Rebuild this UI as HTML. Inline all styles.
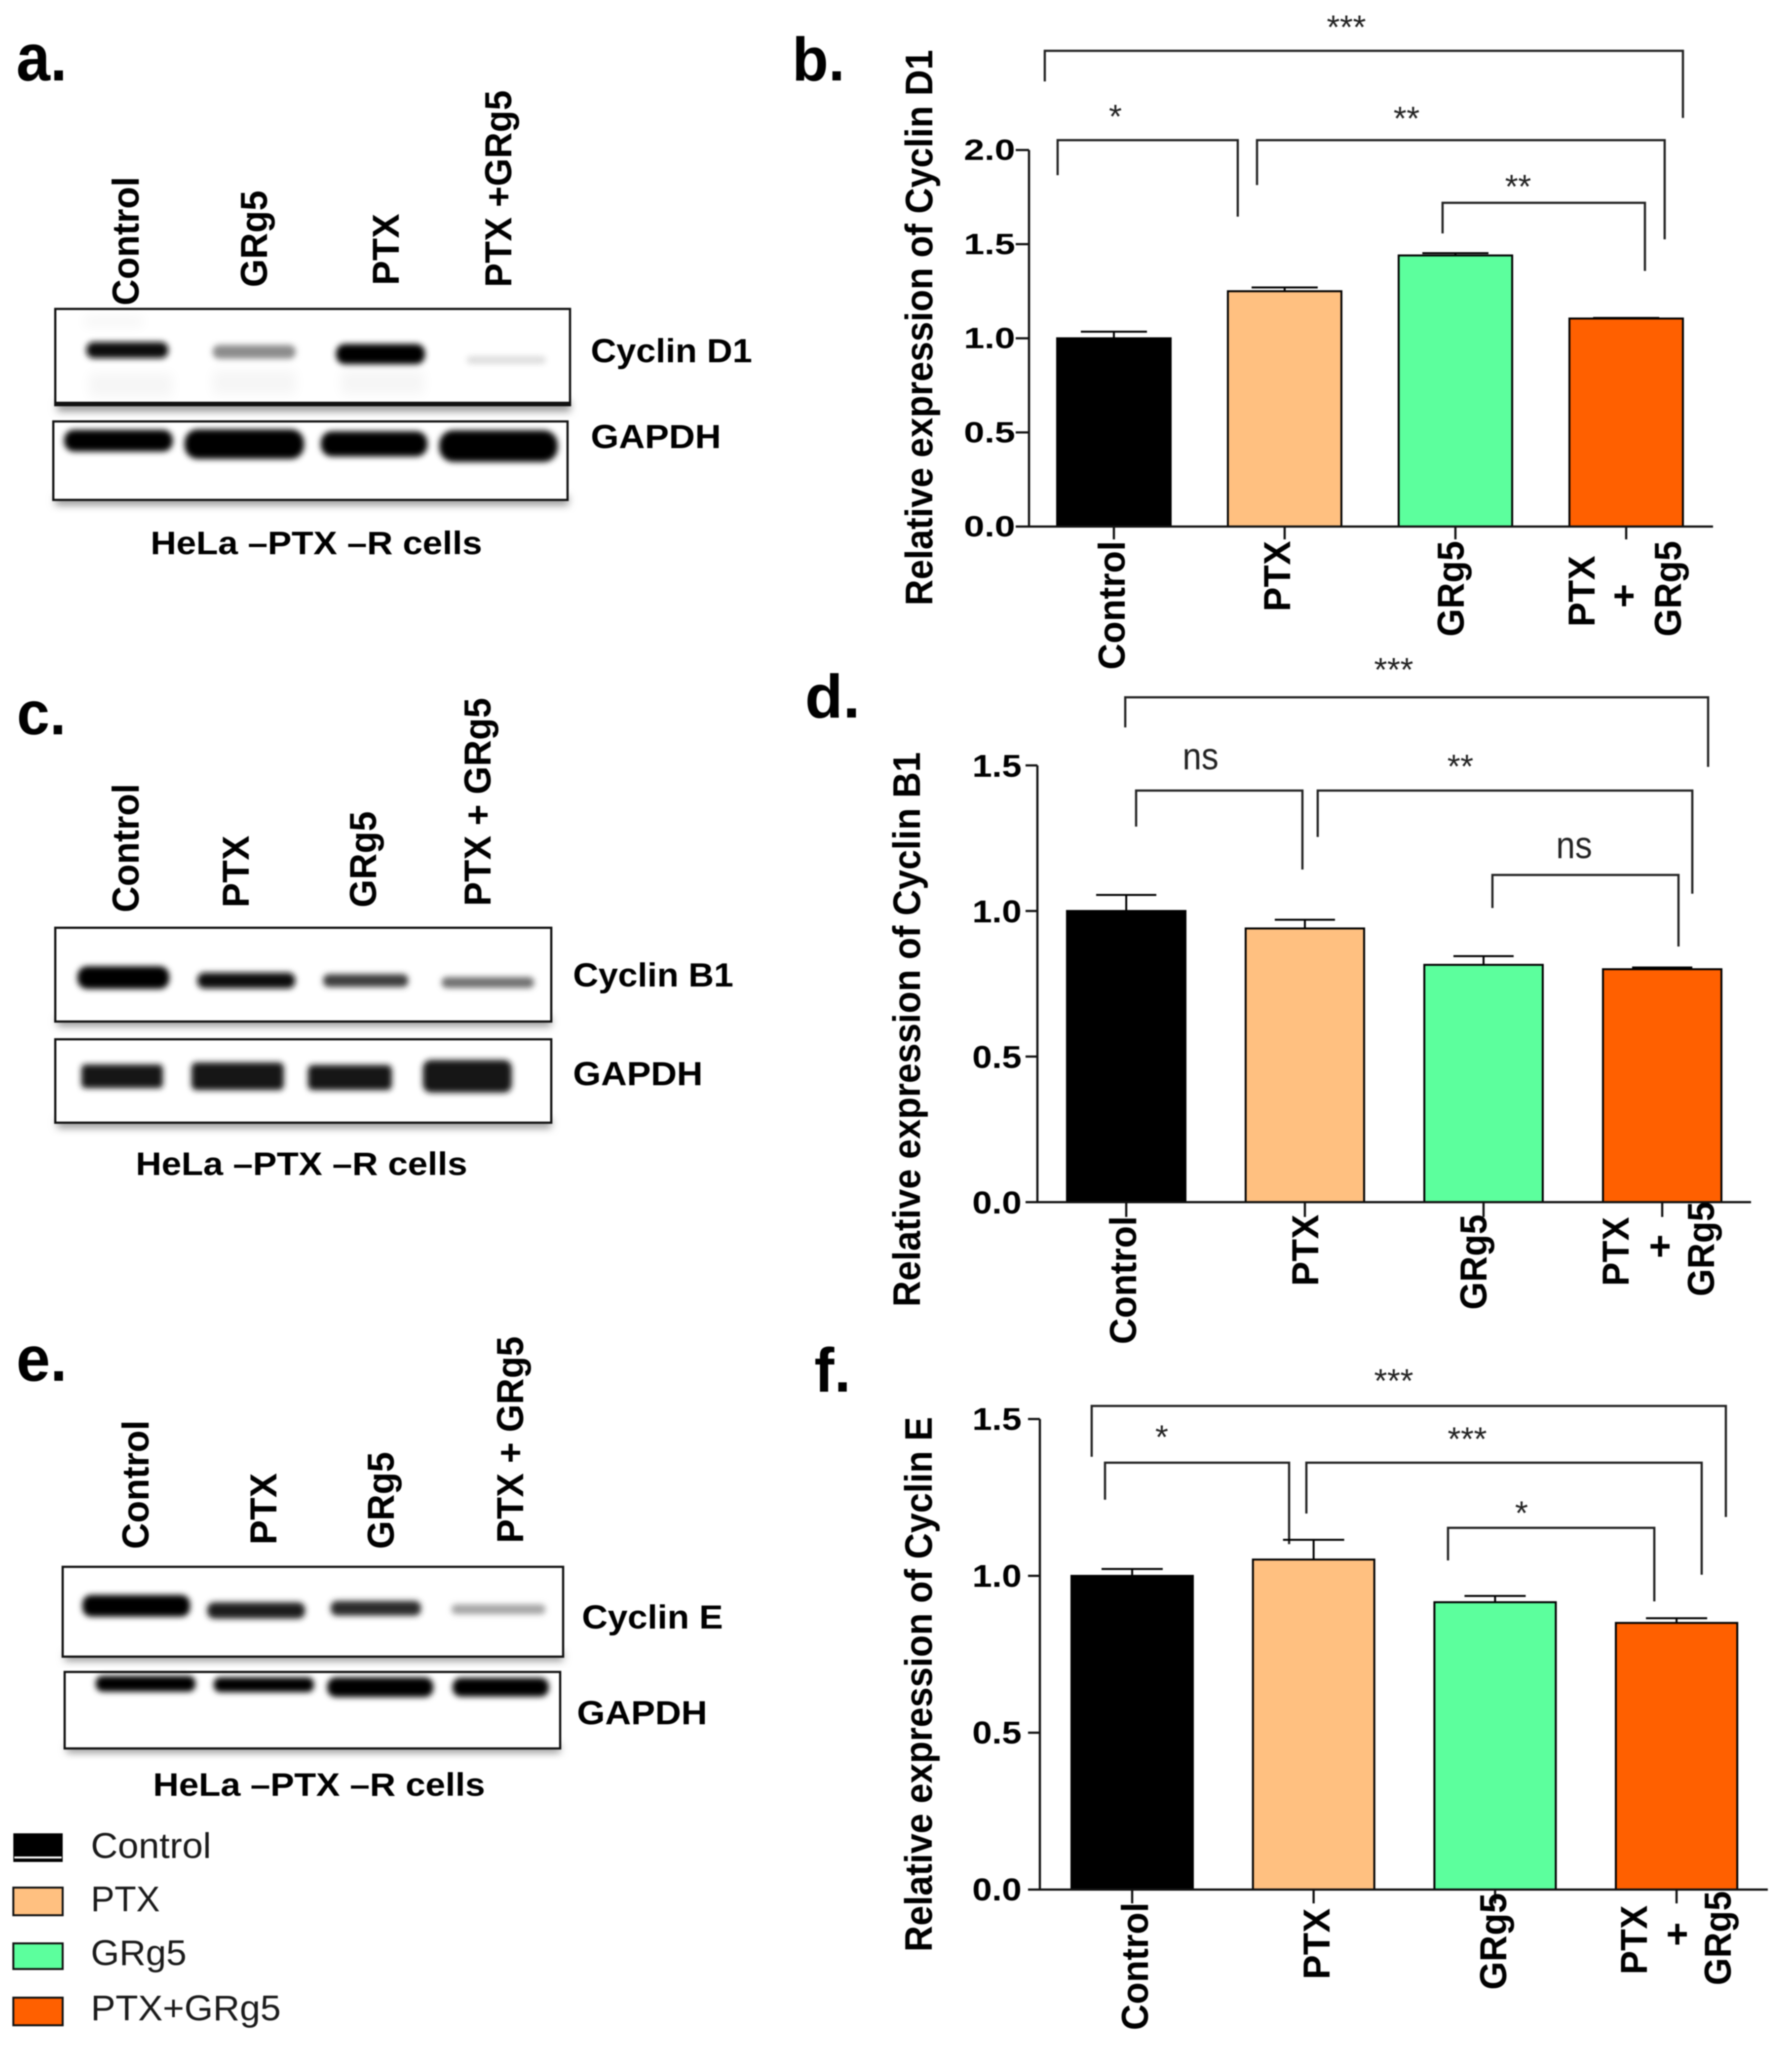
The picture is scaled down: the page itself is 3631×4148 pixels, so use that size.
<!DOCTYPE html>
<html lang="en">
<head>
<meta charset="utf-8">
<title>Cyclin expression western blots and bar charts</title>
<style>
html,body{margin:0;padding:0;background:#fff;width:3631px;height:4148px;overflow:hidden}
svg{display:block;filter:blur(1.3px)}
text{font-family:"Liberation Sans",sans-serif;fill:#000}
.b{font-weight:700}
.lane{font-size:76px;font-weight:700}
.side{font-size:68px;font-weight:700}
.cap{font-size:66px;font-weight:700}
.letter{font-weight:700}
.leg{font-size:72px;fill:#1a1a1a}
.star{font-size:68px;fill:#222}
.ns{font-size:77px;fill:#222}
.box{fill:#fff;stroke:#111;stroke-width:4.5}
.shadow{fill:#999;filter:url(#blur8)}
.band{filter:url(#blur6)}
.smear{filter:url(#blur12);fill:#000;opacity:.035}
.bracket{fill:none;stroke:#222;stroke-width:4.5}
.bracket-shade{fill:none;stroke:#000;stroke-width:12;opacity:.05;filter:url(#blur4)}
</style>
</head>
<body>
<svg id="figure" xmlns="http://www.w3.org/2000/svg" width="3631" height="4148" viewBox="0 0 3631 4148">
<defs>
<filter id="blur4" x="-20%" y="-100%" width="140%" height="300%"><feGaussianBlur stdDeviation="4"/></filter>
<filter id="blur6" x="-20%" y="-100%" width="140%" height="300%"><feGaussianBlur stdDeviation="6"/></filter>
<filter id="blur8" x="-20%" y="-80%" width="140%" height="260%"><feGaussianBlur stdDeviation="8"/></filter>
<filter id="blur12" x="-30%" y="-100%" width="160%" height="300%"><feGaussianBlur stdDeviation="12"/></filter>
</defs>
<rect x="0" y="0" width="3631" height="4148" fill="#fff"/>

<!-- Panel a -->
<g>
<text class="letter" x="33" y="163" font-size="136" textLength="103" lengthAdjust="spacingAndGlyphs">a.</text>
<text class="lane" transform="rotate(-90 281 619)" x="281" y="619" textLength="261" lengthAdjust="spacingAndGlyphs">Control</text>
<text class="lane" transform="rotate(-90 541 582)" x="541" y="582" textLength="196" lengthAdjust="spacingAndGlyphs">GRg5</text>
<text class="lane" transform="rotate(-90 808 578)" x="808" y="578" textLength="145" lengthAdjust="spacingAndGlyphs">PTX</text>
<text class="lane" transform="rotate(-90 1036 582)" x="1036" y="582" textLength="399" lengthAdjust="spacingAndGlyphs">PTX +GRg5</text>
<rect class="shadow" x="116" y="812" width="1040" height="22"/>
<rect class="box" x="112" y="626" width="1043" height="195"/>
<rect x="112" y="814" width="1043" height="8" fill="#111"/>
<rect class="smear" x="170" y="640" width="120" height="22"/>
<rect class="smear" x="180" y="755" width="170" height="50"/>
<rect class="smear" x="430" y="750" width="170" height="50"/>
<rect class="smear" x="690" y="750" width="170" height="50"/>
<rect class="band" x="175" y="693" width="166" height="33" rx="15" fill="#111"/>
<rect class="band" x="431" y="699" width="168" height="28" rx="13" fill="#8c8c8c"/>
<rect class="band" x="681" y="697" width="180" height="41" rx="18" fill="#000"/>
<rect class="band" x="946" y="722" width="160" height="15" rx="7" fill="#dcdcdc"/>
<rect class="shadow" x="112" y="1004" width="1040" height="20"/>
<rect class="box" x="108" y="854" width="1042" height="159"/>
<rect class="band" x="130" y="871" width="220" height="44" rx="20" fill="#000"/>
<rect class="band" x="374" y="870" width="242" height="60" rx="27" fill="#000"/>
<rect class="band" x="650" y="874" width="216" height="51" rx="23" fill="#000"/>
<rect class="band" x="890" y="872" width="240" height="64" rx="29" fill="#000"/>
<text class="side" x="1197" y="734" textLength="327" lengthAdjust="spacingAndGlyphs">Cyclin D1</text>
<text class="side" x="1197" y="908" textLength="264" lengthAdjust="spacingAndGlyphs">GAPDH</text>
<text class="cap" x="305" y="1123" textLength="672" lengthAdjust="spacingAndGlyphs">HeLa –PTX –R cells</text>
</g>

<!-- Panel c -->
<g>
<text class="letter" x="34" y="1488" font-size="124" textLength="100" lengthAdjust="spacingAndGlyphs">c.</text>
<text class="lane" transform="rotate(-90 281 1849)" x="281" y="1849" textLength="261" lengthAdjust="spacingAndGlyphs">Control</text>
<text class="lane" transform="rotate(-90 504 1839)" x="504" y="1839" textLength="146" lengthAdjust="spacingAndGlyphs">PTX</text>
<text class="lane" transform="rotate(-90 762 1839)" x="762" y="1839" textLength="195" lengthAdjust="spacingAndGlyphs">GRg5</text>
<text class="lane" transform="rotate(-90 994 1836)" x="994" y="1836" textLength="422" lengthAdjust="spacingAndGlyphs">PTX + GRg5</text>
<rect class="shadow" x="116" y="2060" width="1001" height="20"/>
<rect class="box" x="112" y="1880" width="1005" height="190"/>
<rect class="band" x="157" y="1958" width="186" height="46" rx="20" fill="#000"/>
<rect class="band" x="400" y="1971" width="198" height="32" rx="14" fill="#111"/>
<rect class="band" x="655" y="1974" width="172" height="26" rx="11" fill="#3c3c3c"/>
<rect class="band" x="895" y="1980" width="187" height="22" rx="10" fill="#707070"/>
<rect class="shadow" x="116" y="2266" width="1001" height="20"/>
<rect class="box" x="112" y="2106" width="1005" height="169"/>
<rect class="band" x="165" y="2157" width="165" height="48" rx="8" fill="#141414"/>
<rect class="band" x="388" y="2153" width="187" height="56" rx="10" fill="#141414"/>
<rect class="band" x="624" y="2158" width="170" height="51" rx="10" fill="#141414"/>
<rect class="band" x="857" y="2148" width="180" height="66" rx="16" fill="#141414"/>
<text class="side" x="1161" y="1999" textLength="325" lengthAdjust="spacingAndGlyphs">Cyclin B1</text>
<text class="side" x="1161" y="2199" textLength="263" lengthAdjust="spacingAndGlyphs">GAPDH</text>
<text class="cap" x="275" y="2381" textLength="672" lengthAdjust="spacingAndGlyphs">HeLa –PTX –R cells</text>
</g>

<!-- Panel e -->
<g>
<text class="letter" x="33" y="2798" font-size="130" textLength="103" lengthAdjust="spacingAndGlyphs">e.</text>
<text class="lane" transform="rotate(-90 301 3139)" x="301" y="3139" textLength="261" lengthAdjust="spacingAndGlyphs">Control</text>
<text class="lane" transform="rotate(-90 560 3130)" x="560" y="3130" textLength="145" lengthAdjust="spacingAndGlyphs">PTX</text>
<text class="lane" transform="rotate(-90 798 3139)" x="798" y="3139" textLength="197" lengthAdjust="spacingAndGlyphs">GRg5</text>
<text class="lane" transform="rotate(-90 1060 3127)" x="1060" y="3127" textLength="419" lengthAdjust="spacingAndGlyphs">PTX + GRg5</text>
<rect class="shadow" x="131" y="3348" width="1010" height="18"/>
<rect class="box" x="127" y="3175" width="1014" height="182"/>
<rect class="band" x="167" y="3232" width="218" height="44" rx="18" fill="#000"/>
<rect class="band" x="420" y="3247" width="198" height="33" rx="14" fill="#1c1c1c"/>
<rect class="band" x="670" y="3244" width="183" height="30" rx="13" fill="#2c2c2c"/>
<rect class="band" x="915" y="3251" width="190" height="20" rx="9" fill="#a4a4a4"/>
<rect class="shadow" x="135" y="3534" width="1000" height="18"/>
<rect class="box" x="131" y="3388" width="1004" height="155"/>
<rect class="band" x="194" y="3396" width="202" height="32" rx="14" fill="#000"/>
<rect class="band" x="433" y="3399" width="203" height="30" rx="13" fill="#000"/>
<rect class="band" x="663" y="3399" width="215" height="40" rx="18" fill="#000"/>
<rect class="band" x="917" y="3400" width="195" height="38" rx="17" fill="#000"/>
<text class="side" x="1179" y="3300" textLength="286" lengthAdjust="spacingAndGlyphs">Cyclin E</text>
<text class="side" x="1169" y="3494" textLength="264" lengthAdjust="spacingAndGlyphs">GAPDH</text>
<text class="cap" x="310" y="3639" textLength="673" lengthAdjust="spacingAndGlyphs">HeLa –PTX –R cells</text>
</g>

<!-- Legend -->
<g>
<g>
<rect x="27" y="3715" width="100" height="58" fill="#000"/>
<rect x="29" y="3762" width="96" height="4" fill="#fff"/>
<text class="leg" x="184" y="3765" textLength="244" lengthAdjust="spacingAndGlyphs">Control</text>
</g>
<g>
<rect x="27" y="3825" width="100" height="56" fill="#FFC080" stroke="#111" stroke-width="4"/>
<text class="leg" x="184" y="3873" textLength="140" lengthAdjust="spacingAndGlyphs">PTX</text>
</g>
<g>
<rect x="27" y="3938" width="100" height="52" fill="#5CFF9D" stroke="#111" stroke-width="4"/>
<text class="leg" x="184" y="3982" textLength="194" lengthAdjust="spacingAndGlyphs">GRg5</text>
</g>
<g>
<rect x="27" y="4048" width="100" height="56" fill="#FF6000" stroke="#111" stroke-width="4"/>
<text class="leg" x="184" y="4094" textLength="385" lengthAdjust="spacingAndGlyphs">PTX+GRg5</text>
</g>
</g>

<!-- Chart annotations: panel b -->
<g>
<text class="letter" x="1605" y="163" font-size="124" textLength="107" lengthAdjust="spacingAndGlyphs">b.</text>
<text class="b" font-size="78" transform="rotate(-90 1889 1227)" x="1889" y="1227" textLength="1126" lengthAdjust="spacingAndGlyphs">Relative expression of Cyclin D1</text>
<path class="bracket-shade" d="M2120 112H3405"/>
<path class="bracket-shade" d="M2146 293H2505"/>
<path class="bracket-shade" d="M2550 293H3370"/>
<path class="bracket-shade" d="M2926 420H3330"/>
<path class="bracket" d="M2117 165V103H3410V239"/>
<path class="bracket" d="M2143 355V284H2508V439"/>
<path class="bracket" d="M2547 375V284H3373V485"/>
<path class="bracket" d="M2923 473V411H3333V549"/>
<text class="star" x="2728" y="78" text-anchor="middle">***</text>
<text class="star" x="2260" y="259" text-anchor="middle">*</text>
<text class="star" x="2850" y="263" text-anchor="middle">**</text>
<text class="star" x="3076" y="401" text-anchor="middle">**</text>
</g>

<!-- Chart annotations: panel d -->
<g>
<text class="letter" x="1631" y="1454" font-size="124" textLength="112" lengthAdjust="spacingAndGlyphs">d.</text>
<text class="b" font-size="78" transform="rotate(-90 1864 2648)" x="1864" y="2648" textLength="1124" lengthAdjust="spacingAndGlyphs">Relative expression of Cyclin B1</text>
<path class="bracket-shade" d="M2283 1422H3458"/>
<path class="bracket-shade" d="M2305 1611H2636"/>
<path class="bracket-shade" d="M2673 1611H3426"/>
<path class="bracket-shade" d="M3027 1782H3398"/>
<path class="bracket" d="M2280 1474V1413H3461V1554"/>
<path class="bracket" d="M2302 1675V1602H2639V1762"/>
<path class="bracket" d="M2670 1696V1602H3429V1811"/>
<path class="bracket" d="M3024 1840V1773H3401V1918"/>
<text class="star" x="2824" y="1380" text-anchor="middle">***</text>
<text class="ns" x="2396" y="1559" textLength="73" lengthAdjust="spacingAndGlyphs">ns</text>
<text class="star" x="2959" y="1576" text-anchor="middle">**</text>
<text class="ns" x="3153" y="1739" textLength="73" lengthAdjust="spacingAndGlyphs">ns</text>
</g>

<!-- Chart annotations: panel f -->
<g>
<text class="letter" x="1650" y="2820" font-size="126" textLength="74" lengthAdjust="spacingAndGlyphs">f.</text>
<text class="b" font-size="78" transform="rotate(-90 1888 3955)" x="1888" y="3955" textLength="1084" lengthAdjust="spacingAndGlyphs">Relative expression of Cyclin E</text>
<path class="bracket-shade" d="M2215 2858H3494"/>
<path class="bracket-shade" d="M2242 2973H2609"/>
<path class="bracket-shade" d="M2650 2973H3445"/>
<path class="bracket-shade" d="M2937 3105H3349"/>
<path class="bracket" d="M2212 2952V2849H3497V3074"/>
<path class="bracket" d="M2239 3039V2964H2612V3129"/>
<path class="bracket" d="M2647 3067V2964H3448V3191"/>
<path class="bracket" d="M2934 3162V3096H3352V3245"/>
<text class="star" x="2824" y="2821" text-anchor="middle">***</text>
<text class="star" x="2354" y="2935" text-anchor="middle">*</text>
<text class="star" x="2973" y="2939" text-anchor="middle">***</text>
<text class="star" x="3083" y="3089" text-anchor="middle">*</text>
</g>

<g id="chart-b"></g>
<g id="chart-d"></g>
<g id="chart-f"></g>
</svg>

<script>
// Chart data
const categoryLines = [['Control'], ['PTX'], ['GRg5'], ['PTX', '+', 'GRg5']];
const barColors = ['#000000', '#FFC080', '#5CFF9D', '#FF6000'];

const cyclinD1Means = [1.0, 1.25, 1.44, 1.105];
const cyclinD1Errors = [0.035, 0.02, 0.012, 0.003];
const cyclinD1Ticks = [0, 0.5, 1.0, 1.5, 2.0];
const cyclinD1TickLabels = ['0.0', '0.5', '1.0', '1.5', '2.0'];

const cyclinB1Means = [1.0, 0.94, 0.815, 0.80];
const cyclinB1Errors = [0.055, 0.03, 0.03, 0.006];
const cyclinB1Ticks = [0, 0.5, 1.0, 1.5];
const cyclinB1TickLabels = ['0.0', '0.5', '1.0', '1.5'];

const cyclinEMeans = [1.0, 1.052, 0.916, 0.85];
const cyclinEErrors = [0.022, 0.063, 0.02, 0.015];
const cyclinETicks = [0, 0.5, 1.0, 1.5];
const cyclinETickLabels = ['0.0', '0.5', '1.0', '1.5'];

// Layout (separate from the data)
const layoutB = {
  axisX: 2085, baseY: 1067, unit: 381.5, axisEndX: 3471, firstX: 2257, stepX: 346, barW: 230, capW: 134,
  tickLen: 27, xTickLen: 26, tickFont: 59, tickLabelX: 1953, tickLabelLen: 104, tickLabelDy: 20, yMax: 2.0,
  labelSpots: [[[2279, 1096, 261]], [[2614, 1096, 143]], [[2966, 1096, 194]], [[3231, 1126, 144], [3316, 1183, 49], [3406, 1096, 194]]]
};
const layoutD = {
  axisX: 2102, baseY: 2436, unit: 590, axisEndX: 3548, firstX: 2282, stepX: 362, barW: 240, capW: 122,
  tickLen: 24, xTickLen: 30, tickFont: 64, tickLabelX: 1970, tickLabelLen: 100, tickLabelDy: 23, yMax: 1.5,
  labelSpots: [[[2302, 2464, 260]], [[2671, 2461, 145]], [[3012, 2461, 193]], [[3300, 2466, 140], [3389, 2501, 49], [3473, 2435, 192]]]
};
const layoutF = {
  axisX: 2107, baseY: 3829, unit: 635.7, axisEndX: 3582, firstX: 2294, stepX: 367.7, barW: 246, capW: 124,
  tickLen: 24, xTickLen: 28, tickFont: 64, tickLabelX: 1970, tickLabelLen: 100, tickLabelDy: 22, yMax: 1.5,
  labelSpots: [[[2326, 3855, 259]], [[2694, 3867, 144]], [[3052, 3836, 196]], [[3337, 3861, 140], [3424, 3895, 49], [3507, 3832, 191]]]
};

const SVG_NS = 'http://www.w3.org/2000/svg';

function makeEl(parent, tag, attrs) {
  const el = document.createElementNS(SVG_NS, tag);
  for (const key in attrs) el.setAttribute(key, attrs[key]);
  parent.appendChild(el);
  return el;
}

function drawChart(rootId, means, errors, ticks, tickLabels, layout) {
  const root = document.getElementById(rootId);
  const yScale = function (v) { return layout.baseY - v * layout.unit; };
  const xScale = function (i) { return layout.firstX + i * layout.stepX; };
  const line = { stroke: '#111', 'stroke-width': 4.5, fill: 'none' };

  means.forEach(function (mean, i) {
    const cx = xScale(i);
    const top = yScale(mean);
    const errTop = yScale(mean + errors[i]);

    const stem = makeEl(root, 'line', { x1: cx, x2: cx, y1: top, y2: errTop, stroke: '#000', 'stroke-width': 4 });
    
    

    const cap = makeEl(root, 'line', { x1: cx - layout.capW / 2, x2: cx + layout.capW / 2, y1: errTop, y2: errTop, stroke: '#000', 'stroke-width': 4 });
    
    

    const bar = makeEl(root, 'rect', { x: cx - layout.barW / 2, y: top, width: layout.barW, height: layout.baseY - top, fill: barColors[i], stroke: '#000', 'stroke-width': 4 });
    
    

    const xTick = makeEl(root, 'line', Object.assign({ x1: cx, x2: cx, y1: layout.baseY, y2: layout.baseY + layout.xTickLen }, line));
    
    

    categoryLines[i].forEach(function (word, j) {
      const spot = layout.labelSpots[i][j];
      const bottom = spot[1] + spot[2];
      const label = makeEl(root, 'text', { x: spot[0], y: bottom, transform: 'rotate(-90 ' + spot[0] + ' ' + bottom + ')', 'font-size': 76, 'font-weight': 700, textLength: spot[2], lengthAdjust: 'spacingAndGlyphs' });
      label.textContent = word;
      
      
    });
  });

  const yAxis = makeEl(root, 'line', Object.assign({ x1: layout.axisX, x2: layout.axisX, y1: yScale(layout.yMax), y2: layout.baseY }, line));
  
  

  const xAxis = makeEl(root, 'line', Object.assign({ x1: layout.axisX, x2: layout.axisEndX, y1: layout.baseY, y2: layout.baseY }, line));
  
  

  ticks.forEach(function (t, i) {
    const y = yScale(t);
    const tick = makeEl(root, 'line', Object.assign({ x1: layout.axisX - layout.tickLen, x2: layout.axisX, y1: y, y2: y }, line));
    
    

    const label = makeEl(root, 'text', { x: layout.tickLabelX, y: y + layout.tickLabelDy, 'font-size': layout.tickFont, 'font-weight': 700, textLength: layout.tickLabelLen, lengthAdjust: 'spacingAndGlyphs' });
    label.textContent = tickLabels[i];
    
    
  });
}

drawChart('chart-b', cyclinD1Means, cyclinD1Errors, cyclinD1Ticks, cyclinD1TickLabels, layoutB);
drawChart('chart-d', cyclinB1Means, cyclinB1Errors, cyclinB1Ticks, cyclinB1TickLabels, layoutD);
drawChart('chart-f', cyclinEMeans, cyclinEErrors, cyclinETicks, cyclinETickLabels, layoutF);
</script>
</body>
</html>
